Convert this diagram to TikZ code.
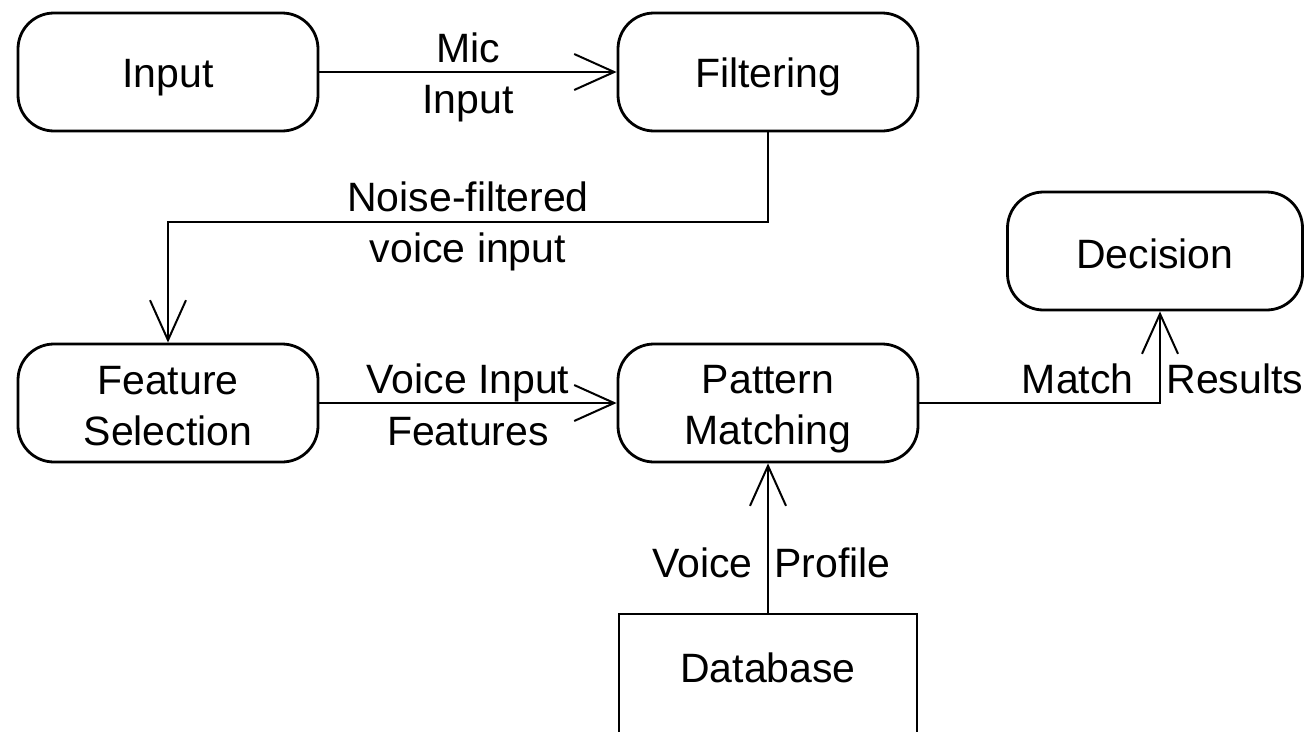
\documentclass[tikz,border=0pt]{standalone}
\usepackage{fontspec}
\setmainfont{Liberation Sans}
\usetikzlibrary{arrows.meta}
\newcommand\myst{\rule[-6pt]{0pt}{46pt}}
\begin{document}
\begin{tikzpicture}[x=1pt,y=-1pt,
  box/.style={draw=black, line width=2.8pt, rounded corners=36pt, minimum width=300pt, minimum height=118pt, inner sep=0pt, align=center, font=\fontsize{41pt}{51pt}\selectfont},
  sqbox/.style={draw=black, line width=2.8pt, minimum width=298pt, minimum height=130pt, inner sep=0pt, font=\fontsize{41pt}{51pt}\selectfont},
  conn/.style={line width=2.8pt, -{Straight Barb[length=40pt,width=36pt,line width=2pt]}},
  lbl/.style={font=\fontsize{41pt}{51pt}\selectfont, inner sep=0pt, anchor=base},
]
\clip (0,0) rectangle (1304,731);
\node[box] (in) at (168,72) {\myst Input};
\node[box] (filt) at (768,72) {\myst Filtering};
\node[box] (feat) at (168,403) {\myst Feature\\\myst Selection};
\node[box] (pat) at (768,403) {\myst Pattern\\\myst Matching};
\node[box, minimum width=295pt] (dec) at (1155,251) {\myst Decision};
\node[sqbox, text height=29pt, text depth=23pt] (db) at (768,679) {Database};
\coordinate (k1) at (768,222);
\coordinate (k2) at (168,222);
\coordinate (k3) at (1160,403);
\draw[conn] (in) -- node[lbl, midway, yshift=10pt]{Mic} node[lbl, midway, yshift=-41pt]{Input} (filt);
\draw[conn] (filt.south) -- (k1) -- node[lbl, midway, yshift=11pt]{Noise-filtered} node[lbl, midway, yshift=-40pt]{voice input} (k2) -- (feat.north);
\draw[conn] (feat) -- node[lbl, midway, yshift=10pt]{Voice Input} node[lbl, midway, yshift=-42pt]{Features} (pat);
\draw[conn] (db.north) -- node[lbl, at start, anchor=base east, xshift=-14pt, yshift=35pt]{Voice} node[lbl, at start, anchor=base west, xshift=5pt, yshift=35pt]{Profile} (pat.south);
\draw[conn] (pat.east) -- (k3) -- node[lbl, at start, anchor=base east, xshift=-25pt, yshift=10pt]{Match} node[lbl, at start, anchor=base west, xshift=5pt, yshift=10pt]{Results} (k3 |- dec.south);
\end{tikzpicture}
\end{document}
